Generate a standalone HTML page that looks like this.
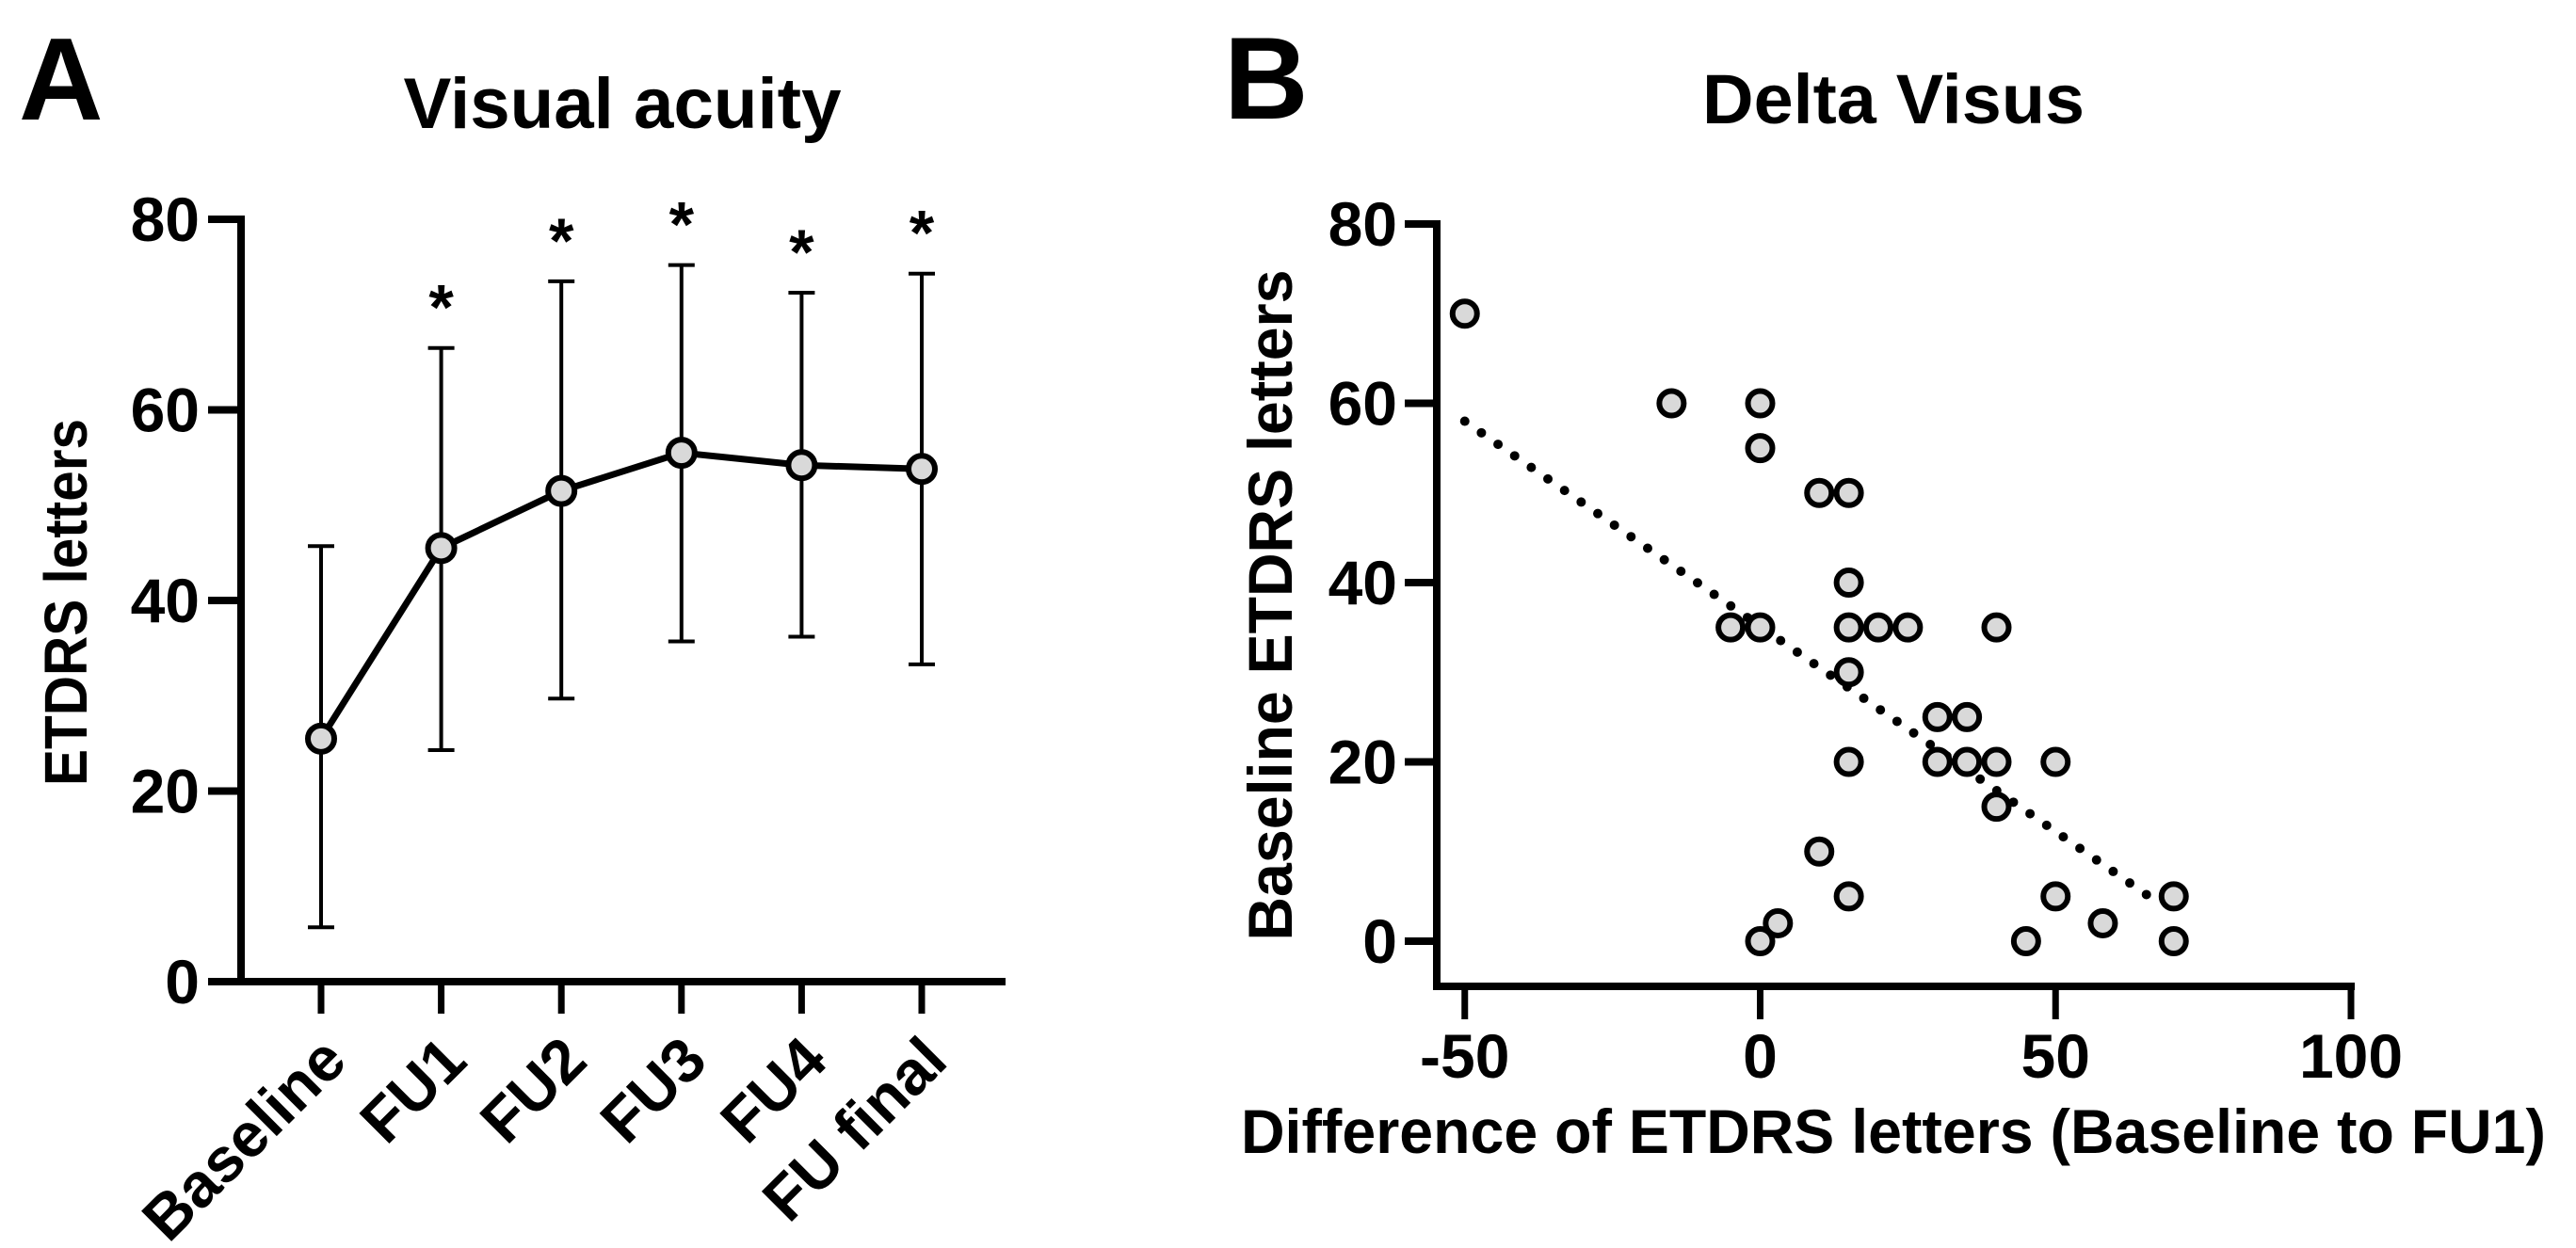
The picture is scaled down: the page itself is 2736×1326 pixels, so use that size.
<!DOCTYPE html>
<html><head><meta charset="utf-8"><style>
html,body{margin:0;padding:0;background:#fff;width:2736px;height:1326px;overflow:hidden}
svg text{font-family:"Liberation Sans",Arial,sans-serif;font-weight:bold;fill:#000}
</style></head><body>
<svg id="fig" width="2736" height="1326" viewBox="0 0 2736 1326" xmlns="http://www.w3.org/2000/svg">
<text x="20" y="127" font-size="124">A</text>
<text x="661" y="136" font-size="76" text-anchor="middle" textLength="465" lengthAdjust="spacingAndGlyphs">Visual acuity</text>
<text transform="translate(92,640) rotate(-90)" font-size="64" text-anchor="middle" textLength="390" lengthAdjust="spacingAndGlyphs">ETDRS letters</text>
<g id="chartA"></g>
<text x="1300" y="126" font-size="124">B</text>
<text x="2011" y="131" font-size="74" text-anchor="middle" textLength="406" lengthAdjust="spacingAndGlyphs">Delta Visus</text>
<text transform="translate(1372,643) rotate(-90)" font-size="66" text-anchor="middle" textLength="713" lengthAdjust="spacingAndGlyphs">Baseline ETDRS letters</text>
<text x="2011" y="1225" font-size="66" text-anchor="middle" textLength="1386" lengthAdjust="spacingAndGlyphs">Difference of ETDRS letters (Baseline to FU1)</text>
<g id="chartB"></g>
</svg>
<script>
const aCategories = ["Baseline","FU1","FU2","FU3","FU4","FU final"];
const aMeans = [25.5, 45.5, 51.5, 55.5, 54.2, 53.8];
const aUpper = [45.7, 66.5, 73.5, 75.2, 72.3, 74.3];
const aLower = [5.7, 24.3, 29.7, 35.7, 36.2, 33.3];
const aStars = ["", "*", "*", "*", "*", "*"];
const aYTicks = [0, 20, 40, 60, 80];

const bX = [-50,-15,0,0,10,15,15,-5,0,15,20,25,40,15,30,35,15,30,35,40,50,40,10,15,50,70,3,58,0,45,70];
const bY = [70,60,60,55,50,50,40,35,35,35,35,35,35,30,25,25,20,20,20,20,20,15,10,5,5,5,2,2,0,0,0];
const bTrendX = [-50, 68];
const bTrendY = [58, 4];
const bXTicks = [-50, 0, 50, 100];
const bYTicks = [0, 20, 40, 60, 80];

const NS = "http://www.w3.org/2000/svg";
function mk(parent, tag, attrs, text) {
  const e = document.createElementNS(NS, tag);
  for (const k in attrs) e.setAttribute(k, attrs[k]);
  if (text !== undefined) e.textContent = text;
  parent.appendChild(e);
  return e;
}

// Chart A
const gA = document.getElementById('chartA');
const ayA = v => 1043 - (1043 - 233) * v / 80;
const axA = i => 341 + i * 127.6;
let e;
e = mk(gA, 'line', {x1:256, y1:229, x2:256, y2:1047, stroke:'#000','stroke-width':8});


e = mk(gA, 'line', {x1:222, y1:1043, x2:1068, y2:1043, stroke:'#000','stroke-width':8});


aYTicks.forEach(v => {
  const t = mk(gA, 'line', {x1:221, y1:ayA(v), x2:256, y2:ayA(v), stroke:'#000','stroke-width':8});
  
  
  const l = mk(gA, 'text', {x:212, y:ayA(v)+23, 'font-size':66, 'text-anchor':'end'}, String(v));
  
  
});
aCategories.forEach((c, i) => {
  const x = axA(i);
  const t = mk(gA, 'line', {x1:x, y1:1043, x2:x, y2:1077, stroke:'#000','stroke-width':7});
  
  
  const l = mk(gA, 'text', {transform:`translate(${x+30},${1130}) rotate(-45)`, 'font-size':66, 'text-anchor':'end'}, c);
  
  
  const eb = mk(gA, 'path', {d:`M${x},${ayA(aUpper[i])}V${ayA(aLower[i])}M${x-14},${ayA(aUpper[i])}H${x+14}M${x-14},${ayA(aLower[i])}H${x+14}`, stroke:'#000','stroke-width':4, fill:'none'});
  
  
  if (aStars[i]) {
    const s = mk(gA, 'text', {x:x, y:ayA(aUpper[i])-20, 'font-size':68, 'text-anchor':'middle'}, aStars[i]);
    
    
  }
});
const pts = aMeans.map((v, i) => `${axA(i)},${ayA(v)}`).join(' ');
e = mk(gA, 'polyline', {points:pts, fill:'none', stroke:'#000', 'stroke-width':7, 'stroke-linejoin':'round'});


aMeans.forEach((v, i) => {
  const m = mk(gA, 'circle', {cx:axA(i), cy:ayA(v), r:14, fill:'#d9d9d9', stroke:'#000', 'stroke-width':6});
  
  
});

// Chart B
const gB = document.getElementById('chartB');
const bxS = v => 1869.5 + (v * 6.275);
const byS = v => 1000 - v * 9.525;
e = mk(gB, 'line', {x1:1526, y1:234, x2:1526, y2:1052, stroke:'#000','stroke-width':8});


e = mk(gB, 'line', {x1:1522, y1:1048, x2:2501, y2:1048, stroke:'#000','stroke-width':8});


bYTicks.forEach(v => {
  const t = mk(gB, 'line', {x1:1492, y1:byS(v), x2:1526, y2:byS(v), stroke:'#000','stroke-width':8});
  
  
  const l = mk(gB, 'text', {x:1484, y:byS(v)+23, 'font-size':66, 'text-anchor':'end'}, String(v));
  
  
});
bXTicks.forEach(v => {
  const x = bxS(v);
  const t = mk(gB, 'line', {x1:x, y1:1048, x2:x, y2:1083, stroke:'#000','stroke-width':7});
  
  
  const l = mk(gB, 'text', {x:x, y:1145, 'font-size':66, 'text-anchor':'middle'}, String(v));
  
  
});
e = mk(gB, 'line', {x1:bxS(bTrendX[0]), y1:byS(bTrendY[0]), x2:bxS(bTrendX[1]), y2:byS(bTrendY[1]), stroke:'#000', 'stroke-width':10, 'stroke-linecap':'round', 'stroke-dasharray':'0 21.5'});


bX.forEach((v, i) => {
  const m = mk(gB, 'circle', {cx:bxS(v), cy:byS(bY[i]), r:13, fill:'#d9d9d9', stroke:'#000', 'stroke-width':6});
  
  
});
</script>
</body></html>
